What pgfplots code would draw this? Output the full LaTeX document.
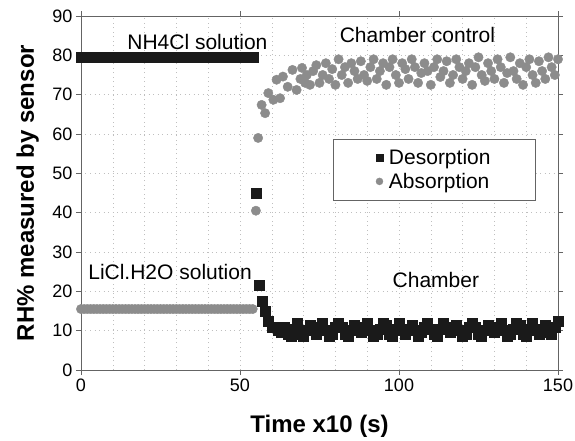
\documentclass[border=0pt]{standalone}
\usepackage{fontspec}
\setmainfont{Liberation Sans}
\usepackage{pgfplots}
\pgfplotsset{compat=1.18}
\definecolor{desc}{RGB}{26,26,26}
\definecolor{absc}{RGB}{140,140,140}
\definecolor{axgray}{RGB}{100,100,100}

\begin{document}
\begin{tikzpicture}
\useasboundingbox (-81pt,-70pt) rectangle (494pt,370pt);
\begin{axis}[
    scale only axis,
    width=477pt, height=354pt,
    xmin=0, xmax=150, ymin=0, ymax=90,
    xtick={0,50,100,150},
    ytick={0,10,...,90},
    minor xtick={10,20,...,140},
    minor tick length=0pt,
    grid=both,
    grid style={gray!50, dash pattern=on 1pt off 3.5pt},
    major grid style={gray!50, dash pattern=on 1pt off 3.5pt},
    axis line style={axgray, line width=0.8pt},
    tick style={axgray, line width=0.8pt},
    tick align=outside,
    major tick length=5pt,
    /pgf/number format/assume math mode=true,
    ticklabel style={font=\fontsize{18}{20}\selectfont},
    xlabel={\textbf{Time x10 (s)}},
    ylabel={\textbf{RH\% measured by sensor}},
    label style={font=\fontsize{24}{28}\selectfont},
    xlabel style={at={(axis description cs:0.5,-0.16)}, anchor=center},
    ylabel style={at={(axis description cs:-0.112,0.5)}, anchor=center},
    legend style={at={(axis cs:143,58.7)}, anchor=north east, draw=axgray,
        fill=white, font=\fontsize{21}{24}\selectfont, inner xsep=43pt,
        inner ysep=8pt, row sep=3pt, column sep=4pt},
    legend cell align=left,
]
% Desorption (black squares)
\addplot[only marks, mark=square*, mark size=5pt, color=desc,
    legend image post style={mark size=3.5pt}] coordinates {
(0,79.5)(1,79.5)(2,79.5)(3,79.5)(4,79.5)(5,79.5)(6,79.5)(7,79.5)(8,79.5)(9,79.5)
(10,79.5)(11,79.5)(12,79.5)(13,79.5)(14,79.5)(15,79.5)(16,79.5)(17,79.5)(18,79.5)(19,79.5)
(20,79.5)(21,79.5)(22,79.5)(23,79.5)(24,79.5)(25,79.5)(26,79.5)(27,79.5)(28,79.5)(29,79.5)
(30,79.5)(31,79.5)(32,79.5)(33,79.5)(34,79.5)(35,79.5)(36,79.5)(37,79.5)(38,79.5)(39,79.5)
(40,79.5)(41,79.5)(42,79.5)(43,79.5)(44,79.5)(45,79.5)(46,79.5)(47,79.5)(48,79.5)(49,79.5)
(50,79.5)(51,79.5)(52,79.5)(53,79.5)(54,79.5)
(55,45)(56,21.5)(57,17.5)(58,15)(59,12.5)(60,11)
(61,11)(62,10)(63,9.5)(64,11)(65,9)(66,8.5)(67,10.5)(68,12)(69,9)(70,8.5)
(71,10)(72,11.5)(73,10)(74,9)(75,11)(76,12)(77,10)(78,8.5)(79,9)(80,11)
(81,12)(82,11)(83,9)(84,8.5)(85,10)(86,11.5)(87,10.5)(88,9.5)(89,11)(90,12)
(91,10)(92,8.5)(93,9)(94,10.5)(95,12)(96,11.5)(97,9)(98,8.5)(99,10.5)(100,12)
(101,10)(102,9)(103,10.5)(104,11.5)(105,10)(106,8.5)(107,9.5)(108,11)(109,12)(110,10.5)
(111,9)(112,8.5)(113,10.5)(114,12)(115,11)(116,9.5)(117,10)(118,11.5)(119,10)(120,8.5)
(121,9)(122,11)(123,12)(124,11)(125,9)(126,8.5)(127,10)(128,11.5)(129,10.5)(130,9.5)
(131,11)(132,12)(133,10)(134,8.5)(135,9)(136,10.5)(137,12)(138,11.5)(139,9)(140,8.5)
(141,10.5)(142,12)(143,10)(144,9)(145,10.5)(146,11.5)(147,9.5)(148,9)(149,11)(150,12.5)
};
\addlegendentry{Desorption}
% Absorption (grey circles)
\addplot[only marks, mark=*, mark size=4.7pt, color=absc,
    legend image post style={mark size=3.5pt}] coordinates {
(0,15.5)(1,15.5)(2,15.5)(3,15.5)(4,15.5)(5,15.5)(6,15.5)(7,15.5)(8,15.5)(9,15.5)
(10,15.5)(11,15.5)(12,15.5)(13,15.5)(14,15.5)(15,15.5)(16,15.5)(17,15.5)(18,15.5)(19,15.5)
(20,15.5)(21,15.5)(22,15.5)(23,15.5)(24,15.5)(25,15.5)(26,15.5)(27,15.5)(28,15.5)(29,15.5)
(30,15.5)(31,15.5)(32,15.5)(33,15.5)(34,15.5)(35,15.5)(36,15.5)(37,15.5)(38,15.5)(39,15.5)
(40,15.5)(41,15.5)(42,15.5)(43,15.5)(44,15.5)(45,15.5)(46,15.5)(47,15.5)(48,15.5)(49,15.5)
(50,15.5)(51,15.5)(52,15.5)(53,15.5)(54,15.5)
(55,40.5)(55.7,59)(56.8,67.4)(57.9,65.3)(58.9,70.4)(60.5,68.7)
(61.5,73.8)(62.6,69.1)(63.5,74.6)(65,72)(66.5,76.3)(67.8,71.2)(69,74)(69.5,76.8)(70.5,73)
(71,75)(72,72.5)(73,76)(74,77.5)(75,73)(76,75)(77,78)(78,74)(79,76.5)(80,72.5)
(81,79)(82,75)(83,77)(84,73)(85,78)(86,76)(87,74)(88,78.5)(89,75)(90,73.5)
(91,77)(92,79)(93,74)(94,76)(95,78)(96,72.5)(97,77)(98,79)(99,75)(100,73)
(101,78)(102,76.5)(103,74)(104,79)(105,77)(106,73)(107,75.5)(108,78)(109,76)(110,72.5)
(111,77)(112,79)(113,74.5)(114,76)(115,78.5)(116,73)(117,75)(118,79)(119,77)(120,74)
(121,76)(122,78)(123,72.5)(124,77)(125,79.5)(126,75)(127,73.5)(128,78)(129,76)(130,74)
(131,79)(132,77)(133,73)(134,75.5)(135,79.5)(136,76)(137,74)(138,78)(139,72.5)(140,77)
(141,79)(142,75)(143,73)(144,78.5)(145,76)(146,74)(147,79.5)(148,77)(149,75)(150,79)
};
\addlegendentry{Absorption}
\node[font=\fontsize{21}{24}\selectfont] at (axis cs:36.6,83.5) {NH4Cl solution};
\node[font=\fontsize{21}{24}\selectfont] at (axis cs:105.8,85.2) {Chamber control};
\node[font=\fontsize{21}{24}\selectfont] at (axis cs:28,25) {LiCl.H2O solution};
\node[font=\fontsize{21}{24}\selectfont] at (axis cs:111.6,22.9) {Chamber};
\end{axis}
\end{tikzpicture}
\end{document}
